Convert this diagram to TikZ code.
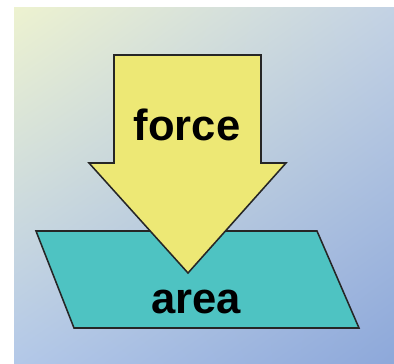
\documentclass[tikz,border=0pt]{standalone}
\usepackage{fontspec}
\setmainfont{Liberation Sans}
\usetikzlibrary{positioning,shadings}
\definecolor{bgtl}{HTML}{EDF2D0}
\definecolor{bgtr}{HTML}{C3D2E4}
\definecolor{bgbl}{HTML}{B3C8E8}
\definecolor{bgbr}{HTML}{8DA8DA}
\definecolor{forcefill}{HTML}{EDE875}
\definecolor{areafill}{HTML}{4EC3C2}
\tikzset{
  outline/.style={draw=black!85,line width=1.1pt,line join=miter},
  label/.style={font=\fontsize{31}{31}\selectfont\bfseries,text=black,anchor=base,inner sep=0pt}
}
\begin{document}
\begin{tikzpicture}[x=0.025cm,y=0.025cm]
        \useasboundingbox (0,0) rectangle (394,363);
        \shade[upper left=bgtl,upper right=bgtr,lower left=bgbl,lower right=bgbr] (14,0) rectangle (394,355);
        % area plate
        \draw[outline,fill=areafill] (36,132)--(317,132)--(359,35)--(74,35)--cycle;
        % force arrow
        \draw[outline,fill=forcefill] (114,308)--(261,308)--(261,200)--(286,200)--(188,90)--(89,200)--(114,200)--cycle;
        \node[label] (f) at (187,223) {force};
        \node[label] (a) at (196,50) {area};
      \end{tikzpicture}
\end{document}
